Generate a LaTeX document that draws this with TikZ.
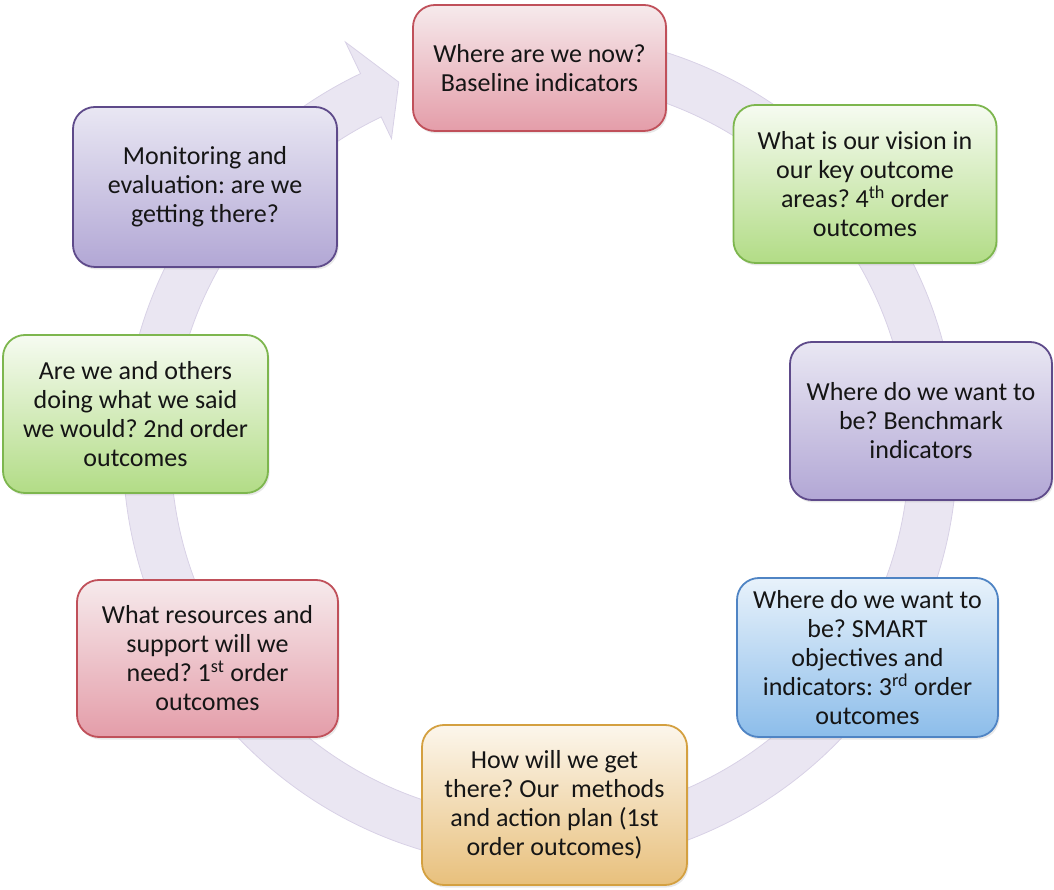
\documentclass[tikz,border=0pt]{standalone}
\usepackage{fontspec}
\setmainfont{Carlito}
\usetikzlibrary{shadows,calc}
\frenchspacing
\definecolor{ringfill}{HTML}{EAE6F2}
\definecolor{ringedge}{HTML}{D8D1E6}
\definecolor{pinkB}{HTML}{C0505A}
\definecolor{pinkT}{HTML}{F6EAEC}
\definecolor{pinkD}{HTML}{E49DA9}
\definecolor{greenB}{HTML}{7DB64E}
\definecolor{greenT}{HTML}{F6FBF1}
\definecolor{greenD}{HTML}{B2DC86}
\definecolor{purpB}{HTML}{5E4A8A}
\definecolor{purpT}{HTML}{E9E7F3}
\definecolor{purpD}{HTML}{B2A7D5}
\definecolor{blueB}{HTML}{4F84C4}
\definecolor{blueT}{HTML}{E8F2FB}
\definecolor{blueD}{HTML}{8CBDEA}
\definecolor{oranB}{HTML}{D4A040}
\definecolor{oranT}{HTML}{FCF6EC}
\definecolor{oranD}{HTML}{E8C07C}
\definecolor{txt}{HTML}{151515}
\tikzset{
  stagebox/.style n args={3}{draw=#1, top color=#2, bottom color=#3,
    line width=1.8pt, rounded corners=22pt, align=center, inner sep=0pt,
    text=txt, font=\fontsize{26}{29}\selectfont,
    drop shadow={opacity=0.18, shadow xshift=1.5pt, shadow yshift=-2.5pt}},
  ringshape/.style={fill=ringfill, draw=ringedge, line width=0.8pt}
}
\begin{document}
\begin{tikzpicture}[x=1pt,y=1pt]
\useasboundingbox (0,0) rectangle (1054,889);
\coordinate (c) at (540,439);
% circular arrow
\path[ringshape]
  ($(c)+(95:417)$) arc[start angle=95, end angle=-244.5, radius=417]
  -- ($(c)+(-244.5:452)$) -- ($(c)+(-249:394)$) -- ($(c)+(-244.5:345)$)
  -- ($(c)+(-244.5:369)$) arc[start angle=-244.5, end angle=95, radius=369]
  -- cycle;
% boxes
\node[stagebox={pinkB}{pinkT}{pinkD}, minimum width=253pt, minimum height=126pt]
  (b1) at (539.5,821) {Where are we now?\\Baseline indicators};
\node[stagebox={greenB}{greenT}{greenD}, minimum width=263pt, minimum height=158pt]
  (b2) at (865,705) {What is our vision in\\our key outcome\\areas? 4\textsuperscript{th} order\\outcomes};
\node[stagebox={purpB}{purpT}{purpD}, minimum width=262pt, minimum height=158pt]
  (b3) at (921,468) {Where do we want to\\be? Benchmark\\indicators};
\node[stagebox={blueB}{blueT}{blueD}, minimum width=261pt, minimum height=159pt]
  (b4) at (867.5,231.5) {Where do we want to\\be? SMART\\objectives and\\indicators: 3\textsuperscript{rd} order\\outcomes};
\node[stagebox={oranB}{oranT}{oranD}, minimum width=265pt, minimum height=160pt]
  (b5) at (554.5,84) {How will we get\\there? Our\ \ methods\\and action plan (1st\\order outcomes)};
\node[stagebox={pinkB}{pinkT}{pinkD}, minimum width=261pt, minimum height=157pt]
  (b6) at (207.5,230.5) {What resources and\\support will we\\need? 1\textsuperscript{st} order\\outcomes};
\node[stagebox={greenB}{greenT}{greenD}, minimum width=265pt, minimum height=158pt]
  (b7) at (135.5,475) {Are we and others\\doing what we said\\we would? 2nd order\\outcomes};
\node[stagebox={purpB}{purpT}{purpD}, minimum width=264pt, minimum height=160pt]
  (b8) at (205,702) {Monitoring and\\evaluation: are we\\getting there?};
\end{tikzpicture}
\end{document}
